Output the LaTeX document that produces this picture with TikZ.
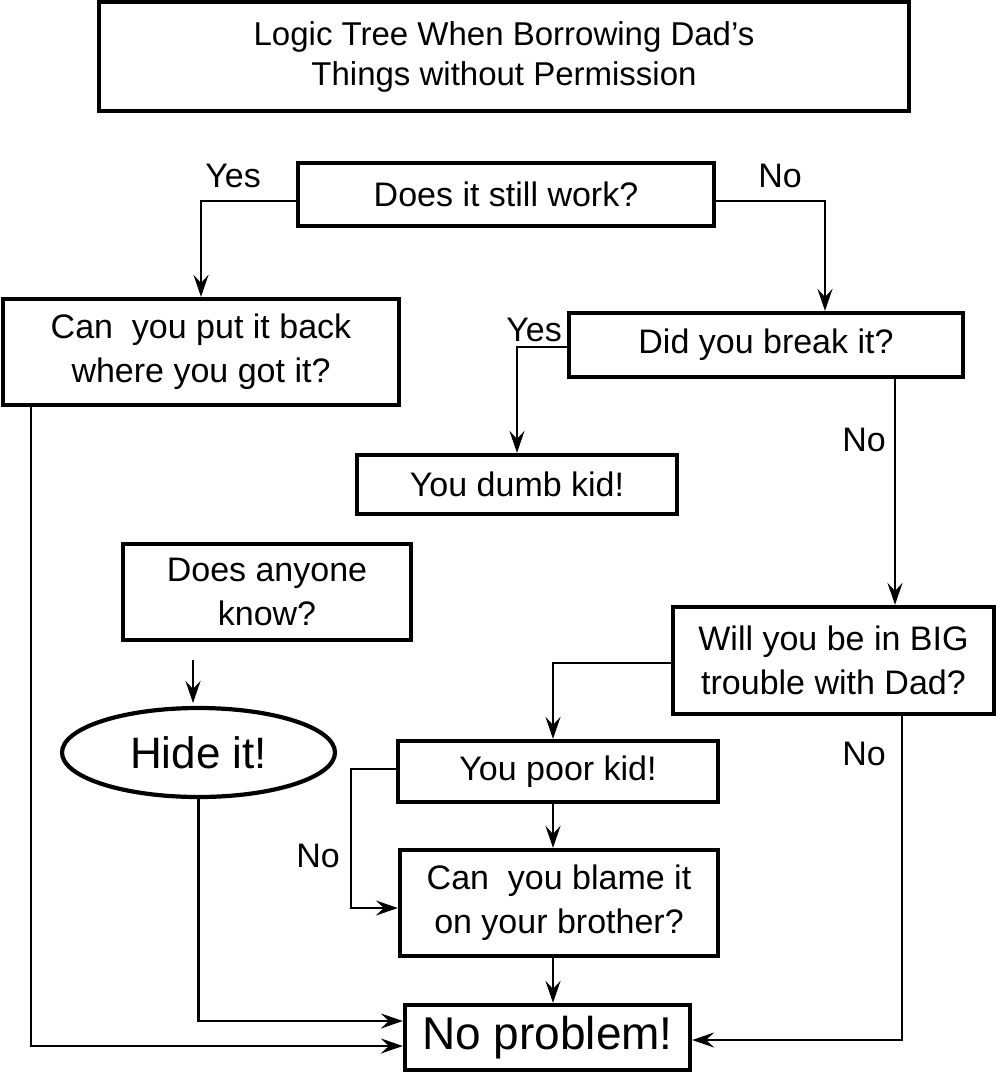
\documentclass[tikz,border=0pt]{standalone}
\usepackage{fontspec}
\setmainfont{Liberation Sans}
\usetikzlibrary{arrows.meta,shapes.geometric}
\begin{document}
\begin{tikzpicture}[x=1pt,y=-1pt,
  box/.style={draw, line width=4.2pt, align=center, inner sep=0pt, font=\fontsize{34}{44}\selectfont},
  conn/.style={line width=2.6pt, -{Stealth[length=22pt,width=15pt,inset=8pt]}},
  lbl/.style={font=\fontsize{34}{40}\selectfont, inner sep=0pt}]
\useasboundingbox (0,0) rectangle (996,1074);
\fill[white] (0,0) rectangle (996,1074);

\node[box, minimum width=810pt, minimum height=109pt, font=\fontsize{33}{40}\selectfont] (title) at (504,56.5)
  {Logic Tree When Borrowing Dad’s\\Things without Permission};
\node[box, minimum width=416pt, minimum height=63pt] (q1) at (506,194.5) {Does it still work?};
\node[box, minimum width=396pt, minimum height=106pt] (q2) at (201,352) {Can\ \ you put it back\\where you got it?};
\node[box, minimum width=394pt, minimum height=64pt] (q3) at (766,345) {Did you break it?};
\node[box, minimum width=320pt, minimum height=59pt] (dumb) at (517,484.5) {You dumb kid!};
\node[box, minimum width=288pt, minimum height=96pt] (q4) at (267,592) {Does anyone\\know?};
\node[draw, ellipse, line width=4.2pt, inner sep=0pt, minimum width=273pt, minimum height=89pt, font=\fontsize{44}{46}\selectfont] (hide) at (198.5,752.5) {Hide it!};
\node[box, minimum width=321pt, minimum height=107pt] (q5) at (833.5,660.5) {Will you be in BIG\\trouble with Dad?};
\node[box, minimum width=320pt, minimum height=61pt] (poor) at (558,771.5) {You poor kid!};
\node[box, minimum width=318pt, minimum height=106pt] (q6) at (559,903) {Can\ \ you blame it\\on your brother?};
\node[box, minimum width=285pt, minimum height=65pt, font=\fontsize{46}{50}\selectfont] (np) at (547.5,1037.5) {No problem!};

% labels
\node[lbl] (yes1) at (233,176) {Yes};
\node[lbl] (no1) at (780,176) {No};
\node[lbl] (yes2) at (534,330) {Yes};
\node[lbl] (no2) at (864,440) {No};
\node[lbl] (no3) at (864,754) {No};
\node[lbl] (no4) at (318,856) {No};

% connectors
\draw[conn] ([yshift=-6.5pt]q1.west) -| (q2.north);
\draw[conn] ([yshift=-6.5pt]q1.east) -| ([xshift=59pt]q3.north);
\draw[conn] ([yshift=-2pt]q3.west) -| (dumb.north);
\draw[conn] ([xshift=129pt]q3.south) -- ([xshift=129pt]q3.south |- q5.north);
\draw[conn] ([yshift=-2.5pt]q5.west) -| ([xshift=-5pt]poor.north);
\draw[conn] ([xshift=-5pt]poor.south) -- ([xshift=-5pt]poor.south |- q6.north);
\draw[conn] ([yshift=2.5pt]poor.west) -- ++(-45,0) |- ([yshift=-5pt]q6.west);
\draw[conn] ([xshift=5.5pt]np.north |- q6.south) -- ([xshift=5.5pt]np.north);
\draw[conn] ([xshift=68.5pt]q5.south) |- ([yshift=-2.5pt]np.east);
\draw[conn] (hide.south) |- ([yshift=16.5pt]np.west);
\draw[conn] ([xshift=-170pt]q2.south) |- ([yshift=-8.5pt]np.west);

\coordinate (fa) at (193,660);
\coordinate (fb) at (193,703);
\draw[conn] (fa) -- (fb);
\end{tikzpicture}
\end{document}
